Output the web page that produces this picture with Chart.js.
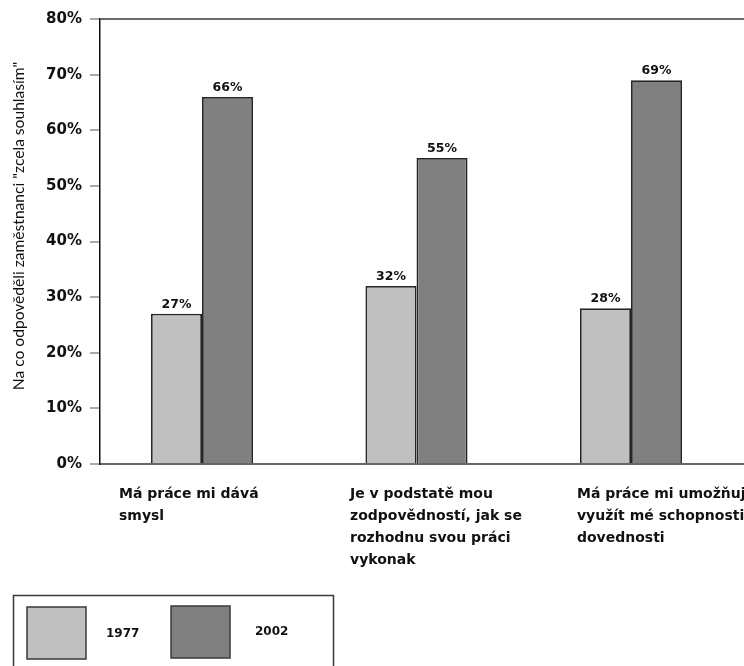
<!DOCTYPE html>
<html>
<head>
<meta charset="utf-8">
<script src="https://cdn.jsdelivr.net/npm/chart.js@4/dist/chart.umd.min.js"></script>
<style>
  html, body { margin: 0; padding: 0; background: #fff; overflow: hidden; }
  canvas { display: block; }
</style>
</head>
<body>
<canvas id="chart" width="744" height="666"></canvas>
<script>
// Survey statements (x categories), one array of lines per statement
const categories = [
  ['Má práce mi dává', 'smysl'],
  ['Je v podstatě mou', 'zodpovědností, jak se', 'rozhodnu svou práci', 'vykonak'],
  ['Má práce mi umožňuj', 'využít mé schopnosti', 'dovednosti']
];
const seriesNames = ['1977', '2002'];
const values1977 = [27, 32, 28];
const values2002 = [66, 55, 69];
const yTickValues = [0, 10, 20, 30, 40, 50, 60, 70, 80];
const yAxisTitle = 'Na co odpověděli zaměstnanci "zcela souhlasím"';

// Styling / layout
const FILLS = ['#c0c0c0', '#808080'];
const BAR_BORDER = '#262626';
const TEXT = '#111';
const BOLD = 'DejaVu Sans';
// where each statement's text block starts, relative to its bar group centre (in category units)
const LABEL_SHIFT = [-0.387, -0.31, -0.252];

const toPoints = arr => arr.map((v, i) => ({ x: i, y: v }));

// Value labels above each bar
const valueLabels = {
  id: 'valueLabels',
  afterDatasetsDraw(chart) {
    const ctx = chart.ctx;
    ctx.save();
    ctx.font = 'bold 12.5px "' + BOLD + '"';
    ctx.fillStyle = TEXT;
    ctx.textAlign = 'center';
    ctx.textBaseline = 'alphabetic';
    chart.data.datasets.forEach((ds, di) => {
      chart.getDatasetMeta(di).data.forEach((el, i) => {
        ctx.fillText(ds.data[i].y + '%', el.x, el.y - 6);
      });
    });
    ctx.restore();
  }
};

// Rotated axis title
const sideTitle = {
  id: 'sideTitle',
  afterDraw(chart) {
    const ctx = chart.ctx;
    ctx.save();
    ctx.translate(19, 226);
    ctx.rotate(-Math.PI / 2);
    ctx.font = '15.6px Lato';
    ctx.fillStyle = TEXT;
    ctx.textAlign = 'center';
    ctx.textBaseline = 'middle';
    ctx.fillText(yAxisTitle, 0, 0);
    ctx.restore();
  }
};

// Boxed legend under the chart
const boxLegend = {
  id: 'boxLegend',
  afterDraw(chart) {
    const ctx = chart.ctx;
    ctx.save();
    ctx.strokeStyle = '#3a3a3a';
    ctx.lineWidth = 1.5;
    ctx.strokeRect(13.5, 595.5, 320, 90);
    chart.data.datasets.forEach((ds, i) => {
      const x = 27 + i * 144;
      ctx.fillStyle = ds.backgroundColor;
      ctx.fillRect(x, 607 - i, 59, 52);
      ctx.strokeStyle = '#3a3a3a';
      ctx.lineWidth = 1.5;
      ctx.strokeRect(x, 607 - i, 59, 52);
      ctx.fillStyle = TEXT;
      ctx.font = 'bold 12px "' + BOLD + '"';
      ctx.textAlign = 'left';
      ctx.textBaseline = 'middle';
      ctx.fillText(ds.label, x + 79 + i * 5, 634 - i * 2);
    });
    ctx.restore();
  }
};

new Chart(document.getElementById('chart'), {
  type: 'bar',
  data: {
    datasets: [
      { label: seriesNames[0], data: toPoints(values1977), backgroundColor: FILLS[0] },
      { label: seriesNames[1], data: toPoints(values2002), backgroundColor: FILLS[1] }
    ]
  },
  options: {
    responsive: false,
    animation: false,
    devicePixelRatio: 1,
    layout: { padding: { top: 19, right: 0, bottom: 0, left: 0 } },
    datasets: {
      bar: {
        borderColor: BAR_BORDER,
        borderWidth: 1.8,
        categoryPercentage: 0.476,
        barPercentage: 1.0
      }
    },
    plugins: {
      legend: { display: false },
      tooltip: { enabled: false }
    },
    scales: {
      x: {
        type: 'linear',
        offset: false,
        min: -0.4755,
        max: 2.5268,
        grid: { display: false, drawTicks: false, offset: false },
        border: { display: true, color: '#666', width: 2 },
        afterBuildTicks(scale) {
          scale.ticks = categories.map((_, i) => ({ value: i + LABEL_SHIFT[i] }));
        },
        ticks: {
          autoSkip: false,
          maxRotation: 0,
          minRotation: 0,
          align: 'start',
          padding: 19,
          color: TEXT,
          font: { family: BOLD, size: 14, weight: 'bold', lineHeight: 1.57 },
          callback: (value, index) => categories[index]
        },
        afterFit(scale) {
          scale.height = 202;
          scale.paddingLeft = 0;
          scale.paddingRight = 0;
        }
      },
      y: {
        min: 0,
        max: 80,
        afterBuildTicks(scale) {
          scale.ticks = yTickValues.map(v => ({ value: v }));
        },
        grid: {
          drawOnChartArea: true,
          color: c => (c.tick && c.tick.value === 80) ? '#6a6a6a' : 'rgba(0,0,0,0)',
          lineWidth: 2,
          tickColor: '#555',
          tickWidth: 1,
          tickLength: 10
        },
        border: { display: true, color: '#111', width: 1.5 },
        ticks: {
          padding: 8,
          color: TEXT,
          font: { family: BOLD, size: 15, weight: 'bold' },
          callback: v => v + '%'
        },
        afterFit(scale) {
          scale.width = 100;
        }
      }
    }
  },
  plugins: [valueLabels, sideTitle, boxLegend]
});
</script>
</body>
</html>
